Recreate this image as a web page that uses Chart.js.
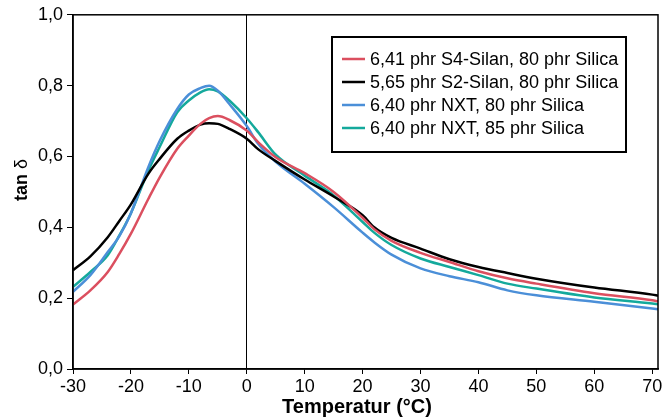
<!DOCTYPE html>
<html>
<head>
<meta charset="utf-8">
<script src="https://cdn.jsdelivr.net/npm/chart.js@4/dist/chart.umd.min.js"></script>
<style>
	html, body { margin: 0; padding: 0; background: #fff; }
	#wrap { width: 665px; height: 417px; position: relative; }
</style>
</head>
<body>
<div id="wrap"><canvas id="chart"></canvas></div>
<script>

// temperatures (°C) at which the curves were sampled
const temps = [-30, -27, -24, -22, -20, -17, -15, -12, -10, -8, -6.5, -5, -3, 0, 2, 5, 10, 15, 20, 22, 25, 30, 35, 40, 45, 50, 60, 70, 71];

// tan delta, one list per compound
const s4Silan80 = [0.182, 0.222, 0.274, 0.325, 0.382, 0.480, 0.542, 0.622, 0.659, 0.692, 0.708, 0.714, 0.703, 0.673, 0.640, 0.598, 0.553, 0.500, 0.427, 0.395, 0.362, 0.328, 0.302, 0.276, 0.256, 0.241, 0.214, 0.194, 0.191];
const s2Silan80 = [0.279, 0.318, 0.372, 0.418, 0.465, 0.551, 0.594, 0.650, 0.673, 0.690, 0.694, 0.692, 0.678, 0.650, 0.620, 0.587, 0.535, 0.487, 0.434, 0.400, 0.370, 0.340, 0.310, 0.288, 0.271, 0.255, 0.230, 0.210, 0.207];
const nxt80 = [0.218, 0.265, 0.330, 0.375, 0.440, 0.570, 0.645, 0.734, 0.775, 0.793, 0.800, 0.786, 0.748, 0.686, 0.635, 0.585, 0.523, 0.457, 0.385, 0.358, 0.323, 0.284, 0.262, 0.245, 0.222, 0.208, 0.190, 0.171, 0.169];
const nxt85 = [0.232, 0.274, 0.321, 0.377, 0.440, 0.560, 0.628, 0.725, 0.758, 0.781, 0.790, 0.784, 0.758, 0.708, 0.668, 0.605, 0.546, 0.490, 0.415, 0.385, 0.350, 0.312, 0.288, 0.265, 0.241, 0.227, 0.202, 0.185, 0.183];

const seriesLabels = [
	'6,41 phr S4-Silan, 80 phr Silica',
	'5,65 phr S2-Silan, 80 phr Silica',
	'6,40 phr NXT, 80 phr Silica',
	'6,40 phr NXT, 85 phr Silica'
];
const seriesColors = ['#db4f5f', '#000000', '#4b8fd8', '#14a99c'];

const xTicks = [-30, -20, -10, 0, 10, 20, 30, 40, 50, 60, 70];
const yTicks = [0, 0.2, 0.4, 0.6, 0.8, 1.0];

const xTitle = 'Temperatur (°C)';
const yTitle = ['tan ', 'δ'];

const FONT = '"Liberation Sans", Arial, Helvetica, sans-serif';

function points(values) {
	return temps.map((t, i) => ({ x: t, y: values[i] }));
}

function dataset(i, values) {
	return {
		label: seriesLabels[i],
		data: points(values),
		borderColor: seriesColors[i],
		backgroundColor: seriesColors[i],
		borderWidth: 2.5,
		pointRadius: 0,
		tension: 0.4,
		cubicInterpolationMode: 'monotone',
		fill: false
	};
}

// frame round the plot, axis titles and the legend box in the upper right
const framePlugin = {
	id: 'frame',
	afterDraw: function(chart) {
		const ctx = chart.ctx;
		const a = chart.chartArea;
		ctx.save();
		ctx.strokeStyle = '#000';
		ctx.lineWidth = 1.5;
		ctx.strokeRect(a.left, a.top, a.right - a.left, a.bottom - a.top);

		// axis titles
		//
		ctx.fillStyle = '#000';
		ctx.textBaseline = 'alphabetic';
		ctx.textAlign = 'center';
		ctx.font = 'bold 20px ' + FONT;
		ctx.fillText(xTitle, 357, 413);

		ctx.save();
		ctx.translate(27, 180);
		ctx.rotate(-Math.PI / 2);
		ctx.font = 'bold 18px ' + FONT;
		let w1 = ctx.measureText(yTitle[0]).width;
		ctx.font = '18px ' + FONT;
		let w2 = ctx.measureText(yTitle[1]).width;
		ctx.textAlign = 'left';
		ctx.font = 'bold 18px ' + FONT;
		ctx.fillText(yTitle[0], -(w1 + w2) / 2, 0);
		ctx.font = '18px ' + FONT;
		ctx.fillText(yTitle[1], -(w1 + w2) / 2 + w1, 0);
		ctx.restore();

		// legend
		//
		let x0 = 332, y0 = 37, w = 294, h = 115;
		ctx.fillStyle = '#fff';
		ctx.fillRect(x0, y0, w, h);
		ctx.strokeStyle = '#000';
		ctx.lineWidth = 2;
		ctx.strokeRect(x0, y0, w, h);
		ctx.font = '18px ' + FONT;
		ctx.textBaseline = 'middle';
		ctx.textAlign = 'left';
		for (let i = 0; i < seriesLabels.length; i++) {
			let y = 59 + i * 23;
			ctx.strokeStyle = seriesColors[i];
			ctx.lineWidth = 2.5;
			ctx.beginPath();
			ctx.moveTo(342, y);
			ctx.lineTo(365, y);
			ctx.stroke();
			ctx.fillStyle = '#000';
			ctx.fillText(seriesLabels[i], 370, y + 1);
		}
		ctx.restore();
	}
};

new Chart(document.getElementById('chart'), {
	type: 'line',
	data: {
		datasets: [
			dataset(0, s4Silan80),
			dataset(1, s2Silan80),
			dataset(2, nxt80),
			dataset(3, nxt85)
		]
	},
	options: {
		responsive: true,
		maintainAspectRatio: false,
		animation: false,
		layout: {
			padding: { top: 14, right: 7, left: 0, bottom: 0 }
		},
		plugins: {
			legend: { display: false },
			tooltip: { enabled: false }
		},
		scales: {
			x: {
				type: 'linear',
				min: -30,
				max: 71,
				afterFit: function(scale) { scale.height = 48; },
				afterBuildTicks: function(scale) {
					scale.ticks = xTicks.map(v => ({ value: v }));
				},
				border: { display: true, color: '#000', width: 1.5 },
				grid: {
					color: c => (c.tick && c.tick.value === 0) ? '#000' : 'rgba(0,0,0,0)',
					lineWidth: 1,
					tickColor: '#000',
					tickLength: 5,
					drawOnChartArea: true
				},
				ticks: {
					color: '#000',
					padding: 2,
					maxRotation: 0,
					font: { family: FONT, size: 18 }
				}
			},
			y: {
				min: 0,
				max: 1,
				afterFit: function(scale) { scale.width = 73; },
				afterBuildTicks: function(scale) {
					scale.ticks = yTicks.map(v => ({ value: v }));
				},
				border: { display: true, color: '#000', width: 1.5 },
				grid: {
					drawOnChartArea: false,
					tickColor: '#000',
					tickLength: 6
				},
				ticks: {
					color: '#000',
					padding: 4,
					font: { family: FONT, size: 18 },
					callback: v => v.toFixed(1).replace('.', ',')
				}
			}
		}
	},
	plugins: [framePlugin]
});
</script>
</body>
</html>
